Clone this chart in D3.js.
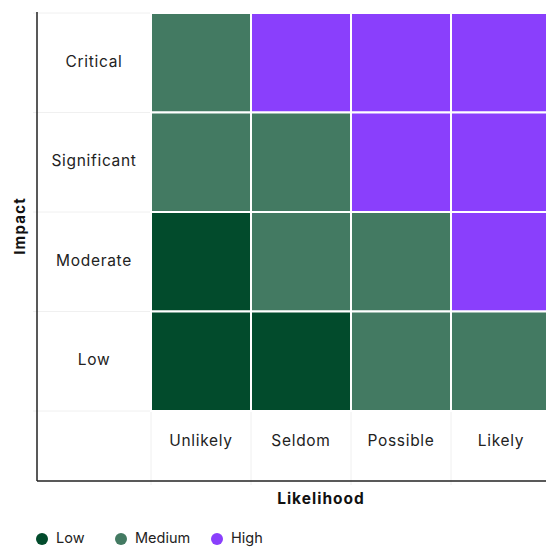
<!DOCTYPE html>
<html>
<head>
<meta charset="utf-8">
<script src="https://cdn.jsdelivr.net/npm/d3@7"></script>
<style>
  html, body { margin: 0; padding: 0; background: #fff; }
  svg { display: block; font-family: "Inter", "Open Sans", sans-serif; }
</style>
</head>
<body>
<svg id="chart" width="546" height="547"></svg>
<script>
// Risk matrix: likelihood across, impact down
const likelihood = ["Unlikely", "Seldom", "Possible", "Likely"];
const impact = ["Critical", "Significant", "Moderate", "Low"];
const levels = ["Low", "Medium", "High"];
const levelColors = ["#024b2c", "#437a62", "#8a3ffc"];

// rating per impact row, one entry per likelihood column
const critical    = ["Medium", "High",   "High",   "High"];
const significant = ["Medium", "Medium", "High",   "High"];
const moderate    = ["Low",    "Medium", "Medium", "High"];
const low         = ["Low",    "Low",    "Medium", "Medium"];
const ratings = [critical, significant, moderate, low];

const cells = [];
impact.forEach((imp, r) => likelihood.forEach((lik, c) => {
  cells.push({ impact: imp, likelihood: lik, level: ratings[r][c] });
}));

const svg = d3.select("#chart");
const axisLeft = 37, axisBottom = 481, plotTop = 13;

const x = d3.scaleBand().domain(likelihood).range([151, 551]);
const y = d3.scaleBand().domain(impact).range([plotTop, 411]);
const color = d3.scaleOrdinal().domain(levels).range(levelColors);

// faint grid
const g = svg.append("g").attr("stroke", "#f0f0f0").attr("stroke-width", 1);
[x.range()[0], ...likelihood.slice(1).map(d => x(d))].forEach(px => {
  g.append("line").attr("x1", px).attr("x2", px).attr("y1", plotTop - 1).attr("y2", axisBottom + 4);
});
[...impact.map(d => y(d)), y.range()[1]].forEach(py => {
  g.append("line").attr("x1", axisLeft - 4).attr("x2", 546).attr("y1", py).attr("y2", py);
});

// cells
svg.append("g").selectAll("rect").data(cells).join("rect")
  .attr("x", d => x(d.likelihood))
  .attr("y", d => y(d.impact))
  .attr("width", x.bandwidth())
  .attr("height", y.bandwidth())
  .attr("fill", d => color(d.level))
  .attr("stroke", "#fff")
  .attr("stroke-width", 2);

// axis lines
svg.append("line").attr("x1", axisLeft).attr("x2", axisLeft).attr("y1", 12).attr("y2", axisBottom)
  .attr("stroke", "#222").attr("stroke-width", 1.5);
svg.append("line").attr("x1", axisLeft).attr("x2", 546).attr("y1", axisBottom).attr("y2", axisBottom)
  .attr("stroke", "#222").attr("stroke-width", 1.5);

// category labels
svg.append("g").selectAll("text").data(impact).join("text")
  .attr("x", 94).attr("y", d => y(d) + y.bandwidth() / 2)
  .attr("text-anchor", "middle").attr("dominant-baseline", "middle")
  .attr("font-size", 15.5).attr("letter-spacing", 0.7).attr("fill", "#222")
  .text(d => d);

svg.append("g").selectAll("text").data(likelihood).join("text")
  .attr("x", d => x(d) + 50).attr("y", 442)
  .attr("text-anchor", "middle").attr("dominant-baseline", "middle")
  .attr("font-size", 15.5).attr("letter-spacing", 0.7).attr("fill", "#222")
  .text(d => d);

// axis titles
svg.append("text").attr("x", 321).attr("y", 504)
  .attr("text-anchor", "middle").attr("font-size", 15.5).attr("font-weight", "bold")
  .attr("letter-spacing", 1).attr("fill", "#111").text("Likelihood");
svg.append("text").attr("transform", "translate(25,226) rotate(-90)")
  .attr("text-anchor", "middle").attr("font-size", 15).attr("font-weight", "bold")
  .attr("letter-spacing", 1.2).attr("fill", "#111").text("Impact");

// legend
const legendX = [42, 121, 217];
const lg = svg.append("g").selectAll("g").data(levels).join("g")
  .attr("transform", (d, i) => `translate(${legendX[i]},539)`);
lg.append("circle").attr("r", 6).attr("fill", d => color(d));
lg.append("text").attr("x", 14).attr("dominant-baseline", "middle")
  .attr("font-size", 14.5).attr("fill", "#222").text(d => d);
</script>
</body>
</html>
